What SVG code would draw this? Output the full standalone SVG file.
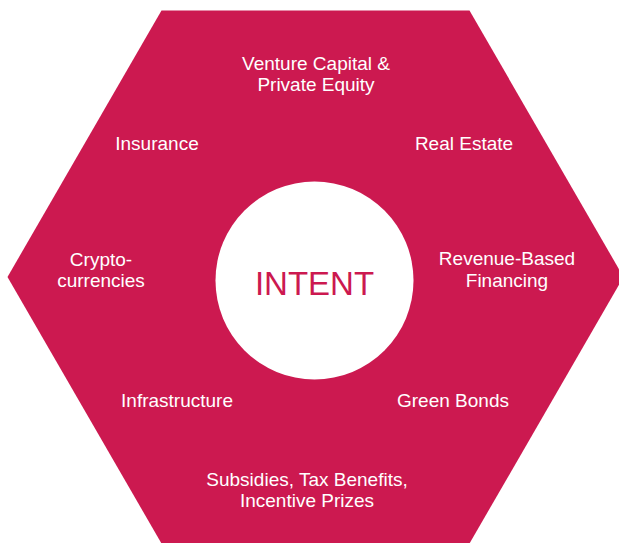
<svg xmlns="http://www.w3.org/2000/svg" width="619" height="543" viewBox="0 0 619 543">
<style>
.lbl{font-family:"Liberation Sans",Arial,sans-serif;font-size:19px;fill:#ffffff;text-anchor:middle}
.ctr{font-family:"Liberation Sans",Arial,sans-serif;font-size:33px;fill:#CC1950;text-anchor:middle}
</style>
<rect width="619" height="543" fill="#ffffff"/>
<g id="hexagon">
<polygon points="623.5,277 469.5,10.5 161.5,10.5 7.5,277 161.5,543.5 469.5,543.5" fill="#CC1950"/>
</g>
<g id="connectors"></g>
<g id="center">
<circle cx="314.5" cy="280.5" r="99" fill="#ffffff"/>
<text class="ctr" x="314.5" y="295">INTENT</text>
</g>
<g id="venture"><text class="lbl" x="316" y="70">Venture Capital &amp;</text><text class="lbl" x="316" y="91">Private Equity</text></g>
<g id="insurance"><text class="lbl" x="157" y="150">Insurance</text></g>
<g id="realestate"><text class="lbl" x="464" y="150">Real Estate</text></g>
<g id="crypto"><text class="lbl" x="101" y="266">Crypto-</text><text class="lbl" x="101" y="287">currencies</text></g>
<g id="rbf"><text class="lbl" x="507" y="265">Revenue-Based</text><text class="lbl" x="507" y="287">Financing</text></g>
<g id="infrastructure"><text class="lbl" x="177" y="407">Infrastructure</text></g>
<g id="greenbonds"><text class="lbl" x="453" y="407">Green Bonds</text></g>
<g id="subsidies"><text class="lbl" x="307" y="486">Subsidies, Tax Benefits,</text><text class="lbl" x="307" y="507">Incentive Prizes</text></g>
</svg>
